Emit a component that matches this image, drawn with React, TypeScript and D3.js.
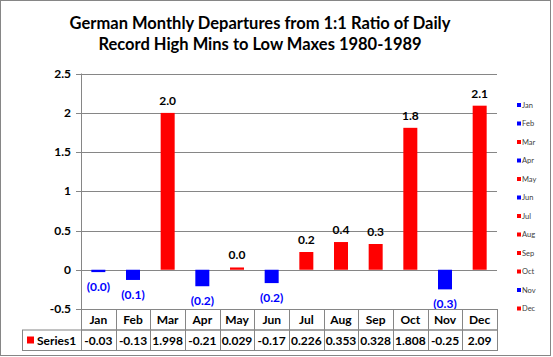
import React from "react";
import * as d3 from "d3";

const months = ["Jan", "Feb", "Mar", "Apr", "May", "Jun", "Jul", "Aug", "Sep", "Oct", "Nov", "Dec"];
const values = [-0.03, -0.13, 1.998, -0.21, 0.029, -0.17, 0.226, 0.353, 0.328, 1.808, -0.25, 2.09];
const tableLabels = ["-0.03", "-0.13", "1.998", "-0.21", "0.029", "-0.17", "0.226", "0.353", "0.328", "1.808", "-0.25", "2.09"];
const yTicks = [-0.5, 0, 0.5, 1, 1.5, 2, 2.5];
const titleLines = ["German Monthly Departures from 1:1 Ratio of Daily", "Record High Mins to Low Maxes 1980-1989"];
const seriesName = "Series1";

const FONT = "Lato, 'Open Sans', sans-serif";
const RED = "#FF0000";
const BLUE = "#0000FF";
const GRID = "#868686";

export default function App() {
  const W = 553, H = 357;
  const left = 81, right = 497;
  const y = d3.scaleLinear().domain([-0.5, 2.5]).range([309, 73.5]);
  const x = d3.scaleBand<string>().domain(months).range([left, right]).paddingInner(0).paddingOuter(0);
  const barW = 14;
  const tableTop = 309, rowH = 20.5;
  const fmtPos = d3.format(".1f");
  const fmtNeg = (v: number) => "(" + d3.format(".1f")(Math.abs(v)) + ")";

  return (
    <svg width={W} height={H} style={{ position: "absolute", left: 0, top: 0, background: "#fff" }}>
      <rect x={0.5} y={0.5} width={550} height={355} fill="#fff" stroke="#868686" strokeWidth={1} />
      {titleLines.map((t, i) => (
        <text key={i} x={260} y={29 + i * 20.5} textAnchor="middle" fontFamily={FONT} fontWeight="bold" fontSize={16.5} fill="#000">
          {t}
        </text>
      ))}
      {/* gridlines & ticks */}
      {yTicks.map((t) => (
        <g key={t}>
          {t >= 0 && (
            <line x1={left} x2={right} y1={Math.round(y(t)) + 0.5} y2={Math.round(y(t)) + 0.5} stroke={GRID} strokeWidth={1} />
          )}
          <line x1={left - 5} x2={left} y1={Math.round(y(t)) + 0.5} y2={Math.round(y(t)) + 0.5} stroke={GRID} />
          <text x={left - 10} y={y(t) + 4} textAnchor="end" fontFamily={FONT} fontWeight="bold" fontSize={12} fill="#000">
            {String(t)}
          </text>
        </g>
      ))}
      <line x1={left + 0.5} x2={left + 0.5} y1={y(2.5)} y2={y(-0.5)} stroke={GRID} />
      {/* bars */}
      {values.map((v, i) => {
        const cx = (x(months[i]) as number) + x.bandwidth() / 2;
        const y0 = y(0), y1 = y(v);
        return (
          <rect key={i} x={cx - barW / 2} y={Math.min(y0, y1)} width={barW} height={Math.abs(y1 - y0)} fill={v >= 0 ? RED : BLUE} />
        );
      })}
      {/* data labels */}
      {values.map((v, i) => {
        const cx = (x(months[i]) as number) + x.bandwidth() / 2;
        return v >= 0 ? (
          <text key={i} x={cx} y={y(v) - 8} textAnchor="middle" fontFamily={FONT} fontWeight="bold" fontSize={12} fill="#000">
            {fmtPos(v)}
          </text>
        ) : (
          <text key={i} x={cx} y={y(v) + 19} textAnchor="middle" fontFamily={FONT} fontWeight="bold" fontSize={12} fill={BLUE}>
            {fmtNeg(v)}
          </text>
        );
      })}
      {/* data table */}
      <g>
        <rect x={left + 0.5} y={tableTop + 0.5} width={right - left} height={rowH} fill="none" stroke={GRID} />
        <rect x={22.5} y={tableTop + rowH + 0.5} width={right - 22} height={rowH} fill="none" stroke={GRID} />
        {months.map((m, i) => (
          <g key={m}>
            <line x1={Math.round(x(m) as number) + 0.5} x2={Math.round(x(m) as number) + 0.5} y1={tableTop} y2={tableTop + 2 * rowH + 1} stroke={GRID} />
            <text x={(x(m) as number) + x.bandwidth() / 2} y={tableTop + 15} textAnchor="middle" fontFamily={FONT} fontWeight="bold" fontSize={12} fill="#000">
              {m}
            </text>
            <text x={(x(m) as number) + x.bandwidth() / 2} y={tableTop + rowH + 15} textAnchor="middle" fontFamily={FONT} fontWeight="bold" fontSize={12} fill="#000">
              {tableLabels[i]}
            </text>
          </g>
        ))}
        <rect x={27} y={tableTop + rowH + 7} width={7} height={7} fill={RED} />
        <text x={37} y={tableTop + rowH + 15} fontFamily={FONT} fontWeight="bold" fontSize={12} fill="#000">
          {seriesName}
        </text>
      </g>
      {/* legend */}
      {months.map((m, i) => {
        const ly = 105 + i * 18.5;
        return (
          <g key={m}>
            <rect x={517} y={ly - 2} width={4} height={4} fill={values[i] >= 0 ? RED : BLUE} />
            <text x={522} y={ly + 2.5} fontFamily={FONT} fontSize={7.5} fill="#404040">
              {m}
            </text>
          </g>
        );
      })}
    </svg>
  );
}
